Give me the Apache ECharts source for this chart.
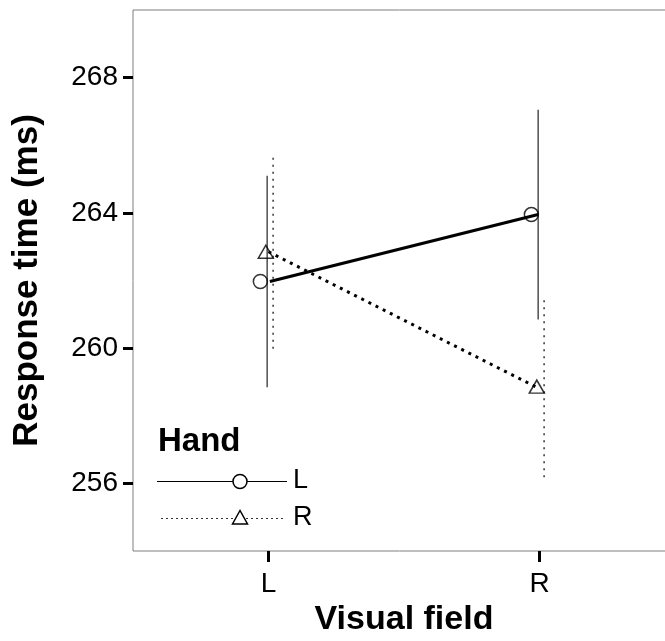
<!DOCTYPE html>
<html>
<head>
<meta charset="UTF-8">
<title></title>
<script src="https://cdn.jsdelivr.net/npm/echarts@6/dist/echarts.min.js"></script>
<style>
  html, body { margin: 0; padding: 0; background: #fff; }
  #container { width: 665px; height: 641px; }
</style>
</head>
<body>
<div id="container"></div>
<script type="text/javascript">
// data
var fields = ['L', 'R'];            // visual field (x categories)
var hands = ['L', 'R'];             // legend groups
var meanHandL = [261.97, 263.95];
var lowHandL = [258.84, 260.85];
var highHandL = [265.10, 267.05];
var meanHandR = [262.85, 258.86];
var lowHandR = [259.98, 256.18];
var highHandR = [265.72, 261.53];
var yTicks = [256, 260, 264, 268];

var FONT = '"Liberation Sans", Arial, sans-serif';

// dodge offsets (in x units) to mimic the staggered look
var dodge = {
    pointL: -0.03, pointR: -0.01,
    barL: -0.005, barR: 0.017,
    lineL: [0.005, -0.005], lineR: [0.0, -0.015]
};

function pts(means, off) {
    return means.map(function (m, i) {
        var o = Array.isArray(off) ? off[i] : off;
        return [i + 1 + o, m];
    });
}
function bars(low, high, off) {
    return low.map(function (lo, i) { return [i + 1 + off, lo, high[i]]; });
}
function errRender(style) {
    return function (params, api) {
        var a = api.coord([api.value(0), api.value(1)]);
        var b = api.coord([api.value(0), api.value(2)]);
        return { type: 'line', shape: { x1: a[0], y1: a[1], x2: b[0], y2: b[1] }, style: style };
    };
}

var chart = echarts.init(document.getElementById('container'));

var legendX = 157, legendY = 481.5, legendGap = 37;
var legendGraphic = [
    { type: 'text', left: 158, top: 425, style: { text: 'Hand', font: 'bold 33px ' + FONT, fill: '#000' } },
    { type: 'line', shape: { x1: legendX, y1: legendY, x2: legendX + 130, y2: legendY }, style: { stroke: '#000', lineWidth: 1 } },
    { type: 'circle', shape: { cx: legendX + 83, cy: legendY, r: 7 }, style: { fill: '#fff', stroke: '#000', lineWidth: 1.5 } },
    { type: 'line', shape: { x1: legendX + 4, y1: legendY + legendGap, x2: legendX + 126, y2: legendY + legendGap }, style: { stroke: '#333', lineWidth: 1, lineDash: [2, 3] } },
    { type: 'polygon', shape: { points: [[legendX + 83, legendY + legendGap - 8], [legendX + 75.5, legendY + legendGap + 5.5], [legendX + 90.5, legendY + legendGap + 5.5]] }, style: { fill: '#fff', stroke: '#000', lineWidth: 1.5 } },
    { type: 'text', left: 293, top: legendY - 14, style: { text: hands[0], font: '27px ' + FONT, fill: '#000' } },
    { type: 'text', left: 293, top: legendY + legendGap - 14, style: { text: hands[1], font: '27px ' + FONT, fill: '#000' } }
];

var option = {
    animation: false,
    backgroundColor: '#fff',
    grid: {
        left: 133, top: 10, right: -10, bottom: 90,
        show: true, borderColor: '#7f7f7f', borderWidth: 1,
        containLabel: false, outerBoundsMode: 'none'
    },
    xAxis: {
        type: 'value', min: 0.5, max: 2.5,
        name: 'Visual field', nameLocation: 'middle', nameGap: 45,
        nameTextStyle: { fontFamily: FONT, fontWeight: 'bold', fontSize: 34, color: '#000' },
        splitLine: { show: false },
        axisLine: { show: false },
        axisTick: { show: true, inside: false, length: 11, customValues: [1, 2], lineStyle: { color: '#000', width: 3 } },
        axisLabel: {
            customValues: [1, 2], margin: 19, fontFamily: FONT, fontSize: 28, color: '#000',
            formatter: function (v) { return fields[Math.round(v) - 1]; }
        }
    },
    yAxis: {
        type: 'value', min: 254, max: 270,
        name: 'Response time (ms)', nameLocation: 'middle', nameGap: 88, nameRotate: 90,
        nameTextStyle: { fontFamily: FONT, fontWeight: 'bold', fontSize: 35, color: '#000' },
        splitLine: { show: false },
        axisLine: { show: false },
        axisTick: { show: true, inside: false, length: 10, customValues: yTicks, lineStyle: { color: '#000', width: 3 } },
        axisLabel: { customValues: yTicks, margin: 15, fontFamily: FONT, fontSize: 28, color: '#000' }
    },
    series: [
        {
            type: 'custom', name: 'errL', data: bars(lowHandL, highHandL, dodge.barL),
            renderItem: errRender({ stroke: '#333', lineWidth: 1.3 }), z: 2
        },
        {
            type: 'custom', name: 'errR', data: bars(lowHandR, highHandR, dodge.barR),
            renderItem: errRender({ stroke: '#333', lineWidth: 1.5, lineDash: [2, 5] }), z: 2
        },
        {
            type: 'line', name: hands[0], data: pts(meanHandL, dodge.lineL), showSymbol: false, symbol: 'none',
            lineStyle: { color: '#000', width: 3 }, z: 3
        },
        {
            type: 'line', name: hands[1], data: pts(meanHandR, dodge.lineR), showSymbol: false, symbol: 'none',
            lineStyle: { color: '#000', width: 3, type: [3, 5] }, z: 3
        },
        {
            type: 'scatter', name: 'ptL', data: pts(meanHandL, dodge.pointL), symbol: 'circle', symbolSize: 14,
            itemStyle: { color: 'rgba(0,0,0,0)', borderColor: '#000', borderWidth: 1.5 }, z: 4
        },
        {
            type: 'scatter', name: 'ptR', data: pts(meanHandR, dodge.pointR), symbol: 'triangle', symbolSize: [15, 13],
            itemStyle: { color: 'rgba(0,0,0,0)', borderColor: '#000', borderWidth: 1.5 }, z: 4
        }
    ],
    graphic: legendGraphic
};

chart.setOption(option);
</script>
</body>
</html>
